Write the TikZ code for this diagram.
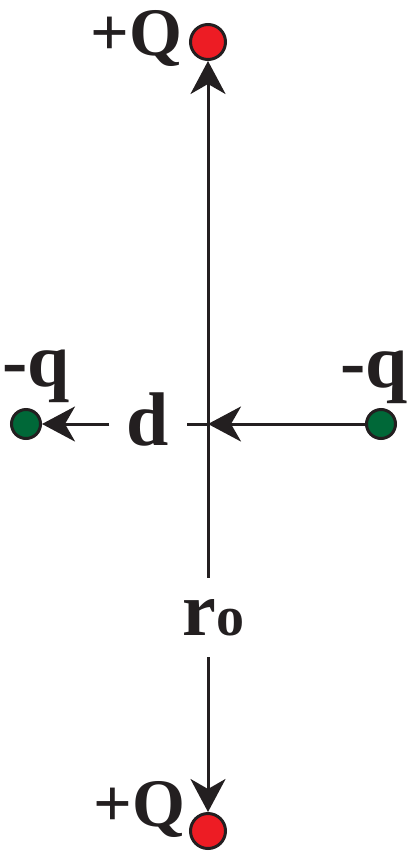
\documentclass[tikz,border=0pt]{standalone}
\usepackage{fontspec}
\setmainfont{Liberation Serif}
\usetikzlibrary{arrows.meta}
\definecolor{ink}{RGB}{35,31,32}
\definecolor{redQ}{RGB}{237,28,36}
\definecolor{greenq}{RGB}{0,104,56}
\tikzset{
  bigQ/.style={circle,draw=ink,line width=3pt,fill=redQ,minimum size=35pt,inner sep=0pt},
  smallq/.style={circle,draw=ink,line width=3pt,fill=greenq,minimum size=29pt,inner sep=0pt},
  capt/.style={inner sep=0pt,font=\bfseries\fontsize{68}{68}\selectfont},
  lowt/.style={inner sep=0pt,font=\bfseries\fontsize{76}{76}\selectfont},
  arr/.style={-{Stealth[length=33pt,width=35pt,inset=10pt]}}
}

\begin{document}
\begin{tikzpicture}[x=1pt,y=-1pt,color=ink,line width=3pt]
\useasboundingbox (0,0) rectangle (410,854);
\coordinate (O) at (208,424);
\node[bigQ] (Qa) at (208,42) {};
\node[bigQ] (Qb) at (208,831) {};
\node[smallq] (qa) at (26,424) {};
\node[smallq] (qb) at (381,424) {};
\node[capt,anchor=base west] (Qat) at (89,55) {+Q};
\node[capt,anchor=base west] (Qbt) at (92,826) {+Q};
\node[lowt,anchor=base west] (qat) at (1,386) {-q};
\node[lowt,anchor=base west] (qbt) at (339,387) {-q};
\node[lowt,anchor=base,inner xsep=16pt] (d) at (148,445) {d};
\node[lowt,anchor=base west,inner ysep=20pt] (r) at (181,635) {r{\fontsize{56}{56}\selectfont o}};
\draw[arr] (r.north -| Qa) -- (Qa);
\draw[arr] (r.south -| Qb) -- (Qb);
\draw[arr] (qb) -- (O);
\draw (O) -- (d.east |- O);
\draw[arr] (d.west |- O) -- (qa);
\end{tikzpicture}
\end{document}
